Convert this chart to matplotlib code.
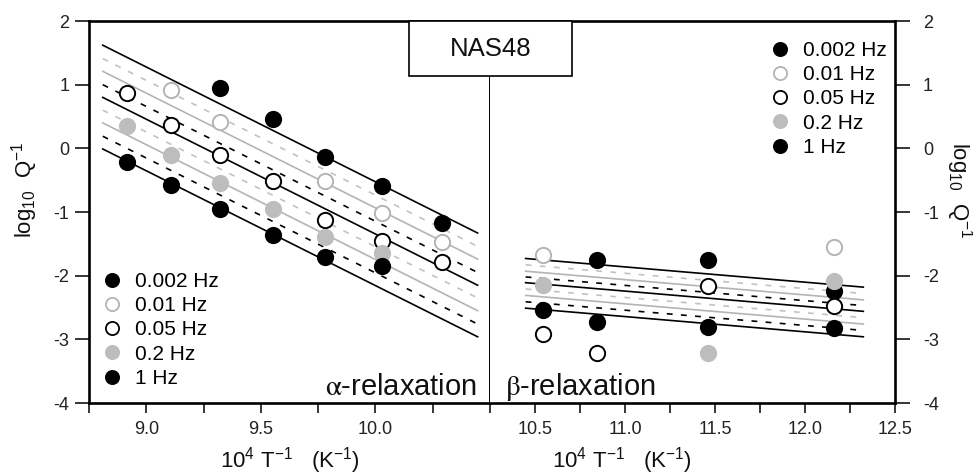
import numpy as np
import matplotlib
matplotlib.use("Agg")
import matplotlib.pyplot as plt
from matplotlib.patches import Rectangle
from matplotlib.lines import Line2D

plt.rcParams['font.family'] = ['Liberation Sans', 'DejaVu Sans']
plt.rcParams['mathtext.fontset'] = 'stix'
plt.rcParams['axes.unicode_minus'] = False

# ---------------- data ----------------
freq_labels = ['0.002 Hz', '0.01 Hz', '0.05 Hz', '0.2 Hz', '1 Hz']

# alpha relaxation (left panel)
alpha_x = [8.915, 9.11, 9.32, 9.555, 9.78, 10.03, 10.29]
alpha_002 = [np.nan, np.nan, 0.95, 0.46, -0.13, -0.59, -1.18]
alpha_01 = [np.nan, 0.92, 0.42, np.nan, -0.52, -1.02, -1.47]
alpha_05 = [0.87, 0.36, -0.10, -0.52, -1.13, -1.46, -1.78]
alpha_2 = [0.35, -0.11, -0.54, -0.96, -1.39, -1.65, np.nan]
alpha_1 = [-0.22, -0.575, -0.96, -1.36, -1.70, -1.85, np.nan]

alpha_fit_x = [8.81, 10.446]
alpha_fit_start = [1.62, 1.41, 1.21, 1.00, 0.80, 0.60, 0.40, 0.19, -0.01]
alpha_fit_end = [-1.33, -1.54, -1.74, -1.95, -2.15, -2.35, -2.55, -2.76, -2.96]

# beta relaxation (right panel)
beta_x = [10.546, 10.843, 11.459, 12.161]
beta_002 = [np.nan, -1.75, -1.76, -2.24]
beta_01 = [-1.67, np.nan, np.nan, -1.55]
beta_05 = [-2.91, -3.22, -2.17, -2.47]
beta_2 = [-2.15, np.nan, -3.21, -2.08]
beta_1 = [-2.54, -2.72, -2.80, -2.82]

beta_fit_x = [10.448, 12.324]
beta_fit_start = [-1.73, -1.83, -1.93, -2.02, -2.11, -2.21, -2.31, -2.41, -2.51]
beta_fit_end = [-2.18, -2.28, -2.38, -2.47, -2.56, -2.66, -2.76, -2.86, -2.96]

# ---------------- styles ----------------
LG = '#b4b4b4'   # light gray edge
GF = '#bdbdbd'   # gray fill
marker_styles = [
    dict(mfc='black', mec='black'),
    dict(mfc='white', mec=LG),
    dict(mfc='white', mec='black'),
    dict(mfc=GF, mec=GF),
    dict(mfc='black', mec='black'),
]
line_styles = [
    dict(color='black', ls='-'),
    dict(color='#c2c2c2', ls=(0, (3.5, 5))),
    dict(color='#b4b4b4', ls='-'),
    dict(color='black', ls=(0, (3.5, 5))),
]

fig = plt.figure(figsize=(9.73, 4.74), dpi=100)
W, H = 973, 474
axL = fig.add_axes([89 / W, (H - 403) / H, 401 / W, 382 / H])
axR = fig.add_axes([490 / W, (H - 403) / H, 405 / W, 382 / H])

MS = 11
MEW = 1.4


def draw(ax, x, series, fit_x, fit_start, fit_end):
    for i, (s, e) in enumerate(zip(fit_start, fit_end)):
        st = line_styles[i % 4]
        ax.plot(fit_x, [s, e], color=st['color'], ls=st['ls'], lw=1.2, zorder=2)
    for ys, ms in zip(series, marker_styles):
        ax.plot(x, ys, 'o', ms=MS, mew=MEW, ls='none', zorder=3, **ms)


draw(axL, alpha_x, [alpha_002, alpha_01, alpha_05, alpha_2, alpha_1],
     alpha_fit_x, alpha_fit_start, alpha_fit_end)
draw(axR, beta_x, [beta_002, beta_01, beta_05, beta_2, beta_1],
     beta_fit_x, beta_fit_start, beta_fit_end)

for ax in (axL, axR):
    ax.set_ylim(-4, 2)
    ax.set_yticks([-4, -3, -2, -1, 0, 1, 2])
    for sp in ax.spines.values():
        sp.set_linewidth(1.9)
    ax.tick_params(axis='x', which='both', direction='out', length=7, width=1.1,
                   labelsize=13, pad=6, colors='black')
    ax.tick_params(axis='x', which='both', labelcolor='#222222')

axL.set_xlim(8.75, 10.5)
axL.set_xticks([9.0, 9.5, 10.0])
axL.set_xticklabels(['9.0', '9.5', '10.0'])
axL.set_xticks([8.75, 9.25, 9.75, 10.25], minor=True)
axL.spines['right'].set_visible(False)
axL.tick_params(axis='y', direction='out', length=10, width=1.1, labelsize=13,
                pad=4, left=True, right=False, labelcolor='#222222')

axR.set_xlim(10.25, 12.5)
axR.set_xticks([10.5, 11.0, 11.5, 12.0, 12.5])
axR.set_xticklabels(['10.5', '11.0', '11.5', '12.0', '12.5'])
axR.set_xticks([10.25, 10.75, 11.25, 11.75, 12.25], minor=True)
axR.spines['left'].set_visible(False)
axR.yaxis.tick_right()
axR.tick_params(axis='y', direction='out', length=11, width=1.1, labelsize=13,
                pad=9, left=False, right=True, labelcolor='#222222')

# divider line
axL.axvline(10.5, ymin=0, ymax=(403 - 75.7) / 382, color='black', lw=1.4, zorder=5)

# NAS48 box
fig.add_artist(Rectangle((409 / W, (H - 75.7) / H), 163 / W, 54.7 / H,
                         transform=fig.transFigure, fill=True, facecolor='white',
                         edgecolor='black', lw=1.2, zorder=10))
fig.text(490.5 / W, (H - 49) / H, 'NAS48', ha='center', va='center',
         fontsize=18.5, color='#111111', zorder=11)

# labels
xlab = '10$\\mathregular{^4}$ T$\\mathregular{^{-1}}$   (K$\\mathregular{^{-1}}$)'
axL.set_xlabel(xlab, fontsize=16, color='#111111')
axL.xaxis.set_label_coords(0.5, (403 - 445) / 382)
axR.set_xlabel(xlab, fontsize=16, color='#111111')
axR.xaxis.set_label_coords((622 - 490) / 405, (403 - 445) / 382)

ylab = 'log$\\mathregular{_{10}}$  Q$\\mathregular{^{-1}}$'
axL.set_ylabel(ylab, fontsize=16, color='#111111')
axL.yaxis.label.set(rotation=90, ha='center', va='center', rotation_mode='default')
axL.yaxis.set_label_coords((25 - 89) / 401, (403 - 190) / 382)
axR.yaxis.set_label_position('right')
axR.set_ylabel(ylab, fontsize=16, color='#111111')
axR.yaxis.label.set(rotation=270, ha='center', va='center', rotation_mode='default')
axR.yaxis.set_label_coords((959 - 490) / 405, (403 - 190) / 382)

axL.text((477 - 89) / 401, (403 - 395) / 382, '$\\mathrm{\\alpha}$-relaxation', transform=axL.transAxes,
         ha='right', va='baseline', fontsize=21, color='#111111')
axR.text((505 - 490) / 405, (403 - 395) / 382, '$\\mathrm{\\beta}$-relaxation', transform=axR.transAxes,
         ha='left', va='baseline', fontsize=21, color='#111111')

# legends
handles = [Line2D([], [], marker='o', ls='none', ms=9.5, mew=1.3, **ms) for ms in marker_styles]
leg_kw = dict(frameon=False, fontsize=15, labelspacing=0.25, handlelength=0.8,
              handletextpad=0.7, borderpad=0, borderaxespad=0, loc='upper left')
legL = axL.legend(handles, freq_labels, bbox_to_anchor=((104 - 89) / 401, (403 - 272) / 382), **leg_kw)
legR = axR.legend(handles, freq_labels, bbox_to_anchor=((772 - 490) / 405, (403 - 41) / 382), **leg_kw)

fig.savefig('out.png', dpi=100)
